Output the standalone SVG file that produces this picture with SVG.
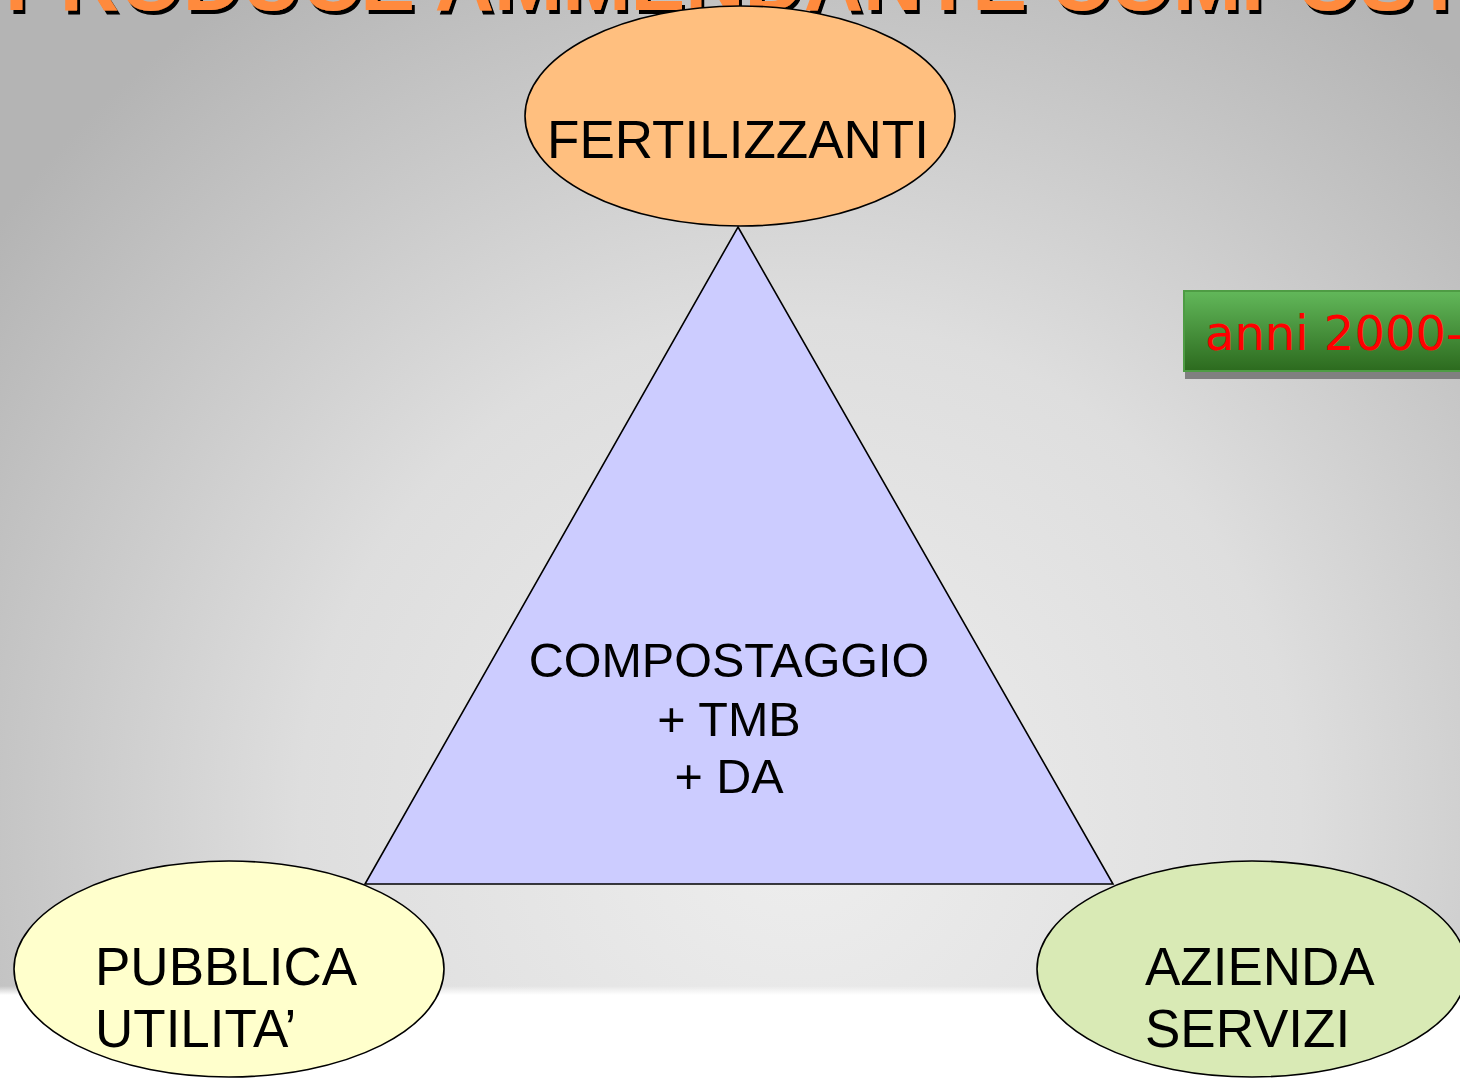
<svg xmlns="http://www.w3.org/2000/svg" width="1460" height="1078" viewBox="0 0 1460 1078">
<defs>
<radialGradient id="bg" cx="800" cy="820" r="1000" gradientUnits="userSpaceOnUse">
<stop offset="0" stop-color="#eeeeee"/>
<stop offset="0.5" stop-color="#dedede"/>
<stop offset="1" stop-color="#b4b4b4"/>
</radialGradient>
<linearGradient id="fade" x1="0" y1="0" x2="0" y2="1">
<stop offset="0" stop-color="#ffffff" stop-opacity="0"/>
<stop offset="1" stop-color="#ffffff" stop-opacity="1"/>
</linearGradient>
<linearGradient id="green" x1="0" y1="0" x2="0" y2="1">
<stop offset="0" stop-color="#62b85a"/>
<stop offset="1" stop-color="#2c6a1e"/>
</linearGradient>
<filter id="shadow" x="-5%" y="-50%" width="110%" height="200%">
<feOffset in="SourceAlpha" dx="3" dy="4" result="off"/>
<feMerge><feMergeNode in="off"/><feMergeNode in="SourceGraphic"/></feMerge>
</filter>
<style>
.lbl{font-family:"Liberation Sans",Arial,sans-serif;fill:#000000;}
.shape{stroke:#000000;stroke-width:1.6;}
.title{font-family:"Liberation Sans",Arial,sans-serif;font-weight:bold;font-size:82px;}
</style>
</defs>
<rect x="0" y="0" width="1460" height="1078" fill="#ffffff"/>
<rect x="0" y="0" width="1460" height="995" fill="url(#bg)"/>
<rect x="0" y="986" width="1460" height="9" fill="url(#fade)"/>
<g id="title">
<text class="title" x="5" y="10" fill="#ff8a3c" filter="url(#shadow)">PRODUCE AMMENDANTE COMPOSTATO</text>
</g>
<g id="connectors"></g>
<g id="node-compostaggio">
<polygon class="shape" points="738,227 1113,884 365,884" fill="#ccccff"/>
<text class="lbl" font-size="48.5" text-anchor="middle" x="729" y="677">COMPOSTAGGIO</text>
<text class="lbl" font-size="48.5" text-anchor="middle" x="729" y="736">+ TMB</text>
<text class="lbl" font-size="48.5" text-anchor="middle" x="729" y="793">+ DA</text>
</g>
<g id="node-fertilizzanti">
<ellipse class="shape" cx="740" cy="116" rx="215" ry="110" fill="#ffbf7f"/>
<text class="lbl" font-size="53" text-anchor="middle" x="738" y="158">FERTILIZZANTI</text>
</g>
<g id="node-pubblica">
<ellipse class="shape" cx="229" cy="969" rx="215" ry="108" fill="#ffffcc"/>
<text class="lbl" font-size="53" x="95" y="985">PUBBLICA</text>
<text class="lbl" font-size="53" x="95" y="1047">UTILITA’</text>
</g>
<g id="node-azienda">
<ellipse class="shape" cx="1252" cy="969" rx="215" ry="108" fill="#d9eab5"/>
<text class="lbl" font-size="53" x="1145" y="985">AZIENDA</text>
<text class="lbl" font-size="53" x="1145" y="1047">SERVIZI</text>
</g>
<g id="node-anni">
<rect x="1185" y="299" width="290" height="80" fill="#808080"/>
<rect x="1184" y="291" width="290" height="80" fill="url(#green)" stroke="#4e9c44" stroke-width="2"/>
<text x="1205" y="350" font-family="DejaVu Sans,Verdana,sans-serif" font-size="48" fill="#ff0000">anni 2000-</text>
</g>
</svg>
